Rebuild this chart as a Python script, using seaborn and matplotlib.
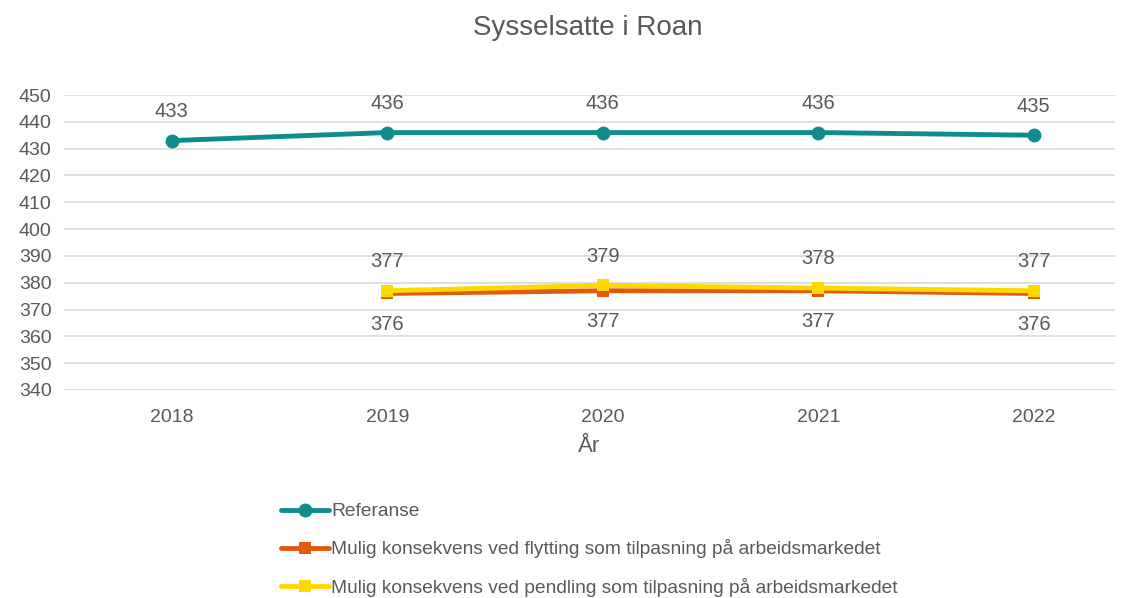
import matplotlib
matplotlib.use("Agg")
import matplotlib.pyplot as plt
import seaborn as sns
import numpy as np

years = ["2018", "2019", "2020", "2021", "2022"]
referanse = [433, 436, 436, 436, 435]
flytting_years = ["2019", "2020", "2021", "2022"]
flytting = [376, 377, 377, 376]
pendling_years = ["2019", "2020", "2021", "2022"]
pendling = [377, 379, 378, 377]

labels = ["Referanse",
          "Mulig konsekvens ved flytting som tilpasning på arbeidsmarkedet",
          "Mulig konsekvens ved pendling som tilpasning på arbeidsmarkedet"]
y_ticks = list(range(340, 451, 10))

sns.set_style("white")
plt.rcParams['font.family'] = ['Liberation Sans', 'DejaVu Sans']
TXT = "#595959"
C_REF = "#0F8C8F"
C_FLY = "#E15A0E"
C_PEN = "#FFD800"

fig = plt.figure(figsize=(11.3, 5.98), dpi=100)
ax = fig.add_axes([64/1130, 1-390/598, (1115-64)/1130, (390-95)/598])

pos = {y: i for i, y in enumerate(years)}
xr = [pos[y] for y in years]
xf = [pos[y] for y in flytting_years]
xp = [pos[y] for y in pendling_years]

sns.lineplot(x=xr, y=referanse, ax=ax, color=C_REF, lw=3.5, marker='o', markersize=10,
             markeredgewidth=0, label=labels[0])
sns.lineplot(x=xf, y=flytting, ax=ax, color=C_FLY, lw=3.5, marker='s', markersize=9,
             markeredgewidth=0, label=labels[1])
sns.lineplot(x=xp, y=pendling, ax=ax, color=C_PEN, lw=3.5, marker='s', markersize=9,
             markeredgewidth=0, label=labels[2])

LBL = 14.5
for x, v in zip(xr, referanse):
    ax.annotate(str(v), (x, v), xytext=(0, 21), textcoords='offset points',
                ha='center', va='center', fontsize=LBL, color=TXT)
for x, v in zip(xp, pendling):
    ax.annotate(str(v), (x, v), xytext=(0, 21), textcoords='offset points',
                ha='center', va='center', fontsize=LBL, color=TXT)
for x, v in zip(xf, flytting):
    ax.annotate(str(v), (x, v), xytext=(0, -22), textcoords='offset points',
                ha='center', va='center', fontsize=LBL, color=TXT)

ax.set_xlim(-0.5, 4.377)
ax.set_ylim(340, 450)
ax.set_yticks(y_ticks)
ax.set_xticks(range(len(years)))
ax.set_xticklabels(years)
ax.yaxis.grid(True, color="#D9D9D9", lw=1.2)
ax.set_axisbelow(True)
for s in ax.spines.values():
    s.set_visible(False)
ax.tick_params(axis='both', length=0, labelsize=14, colors=TXT)
ax.tick_params(axis='y', pad=9)
ax.tick_params(axis='x', pad=14)
ax.set_xlabel("År", fontsize=16, color=TXT, labelpad=7)
ax.set_ylabel("")

fig.suptitle("Sysselsatte i Roan", fontsize=20, color=TXT, x=0.52, y=0.975)

ax.get_legend().remove()
h, l = ax.get_legend_handles_labels()
leg = fig.legend(h, l, loc='upper left', bbox_to_anchor=(0.242, 0.172), frameon=False,
                 fontsize=13.8, handlelength=2.5, handletextpad=0.1, labelspacing=1.0,
                 borderaxespad=0)
for t in leg.get_texts():
    t.set_color(TXT)

fig.savefig("out.png", dpi=100)
